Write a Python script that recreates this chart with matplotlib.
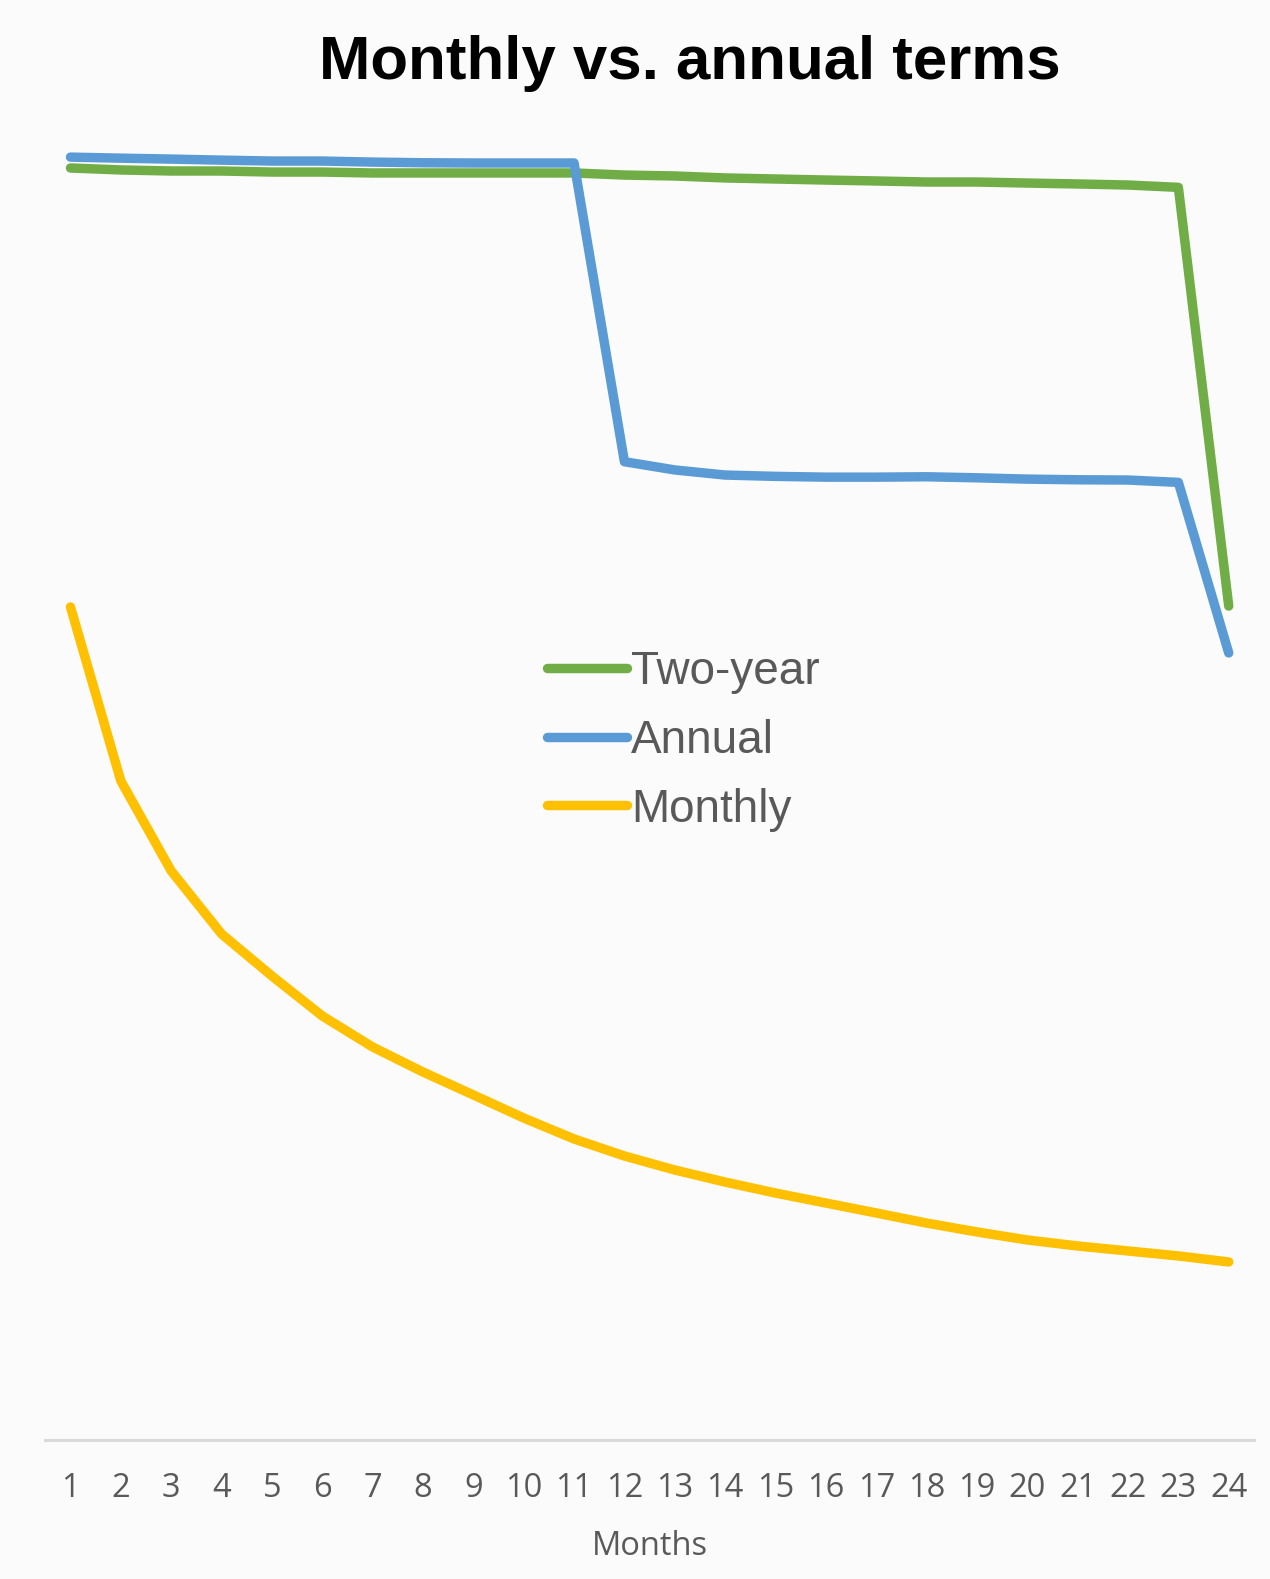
import matplotlib
matplotlib.use("Agg")
import matplotlib.pyplot as plt

# ---- data (relative index, no y scale shown in the original) ----
months = list(range(1, 25))
month_labels = [str(m) for m in months]

two_year = [97.10, 96.95, 96.87, 96.87, 96.79, 96.79, 96.72, 96.72, 96.72, 96.72,
            96.72, 96.56, 96.49, 96.34, 96.26, 96.18, 96.11, 96.03, 96.03, 95.95,
            95.88, 95.80, 95.62, 63.66]
annual = [97.93, 97.85, 97.78, 97.70, 97.63, 97.63, 97.55, 97.50, 97.48, 97.48,
          97.48, 74.68, 74.05, 73.66, 73.56, 73.50, 73.50, 73.53, 73.45, 73.35,
          73.30, 73.28, 73.10, 60.08]
monthly = [63.59, 50.31, 43.44, 38.63, 35.42, 32.37, 30.00, 28.09, 26.34, 24.58,
           22.98, 21.68, 20.61, 19.69, 18.85, 18.09, 17.33, 16.56, 15.88, 15.27,
           14.81, 14.43, 14.05, 13.59]

series_names = ["Two-year", "Annual", "Monthly"]
series_colors = ["#70ad47", "#5b9bd5", "#ffc000"]

title = "Monthly vs. annual terms"
x_title = "Months"

# ---- figure ----
W, H = 1270, 1579
fig = plt.figure(figsize=(W / 100, H / 100), dpi=100)
bg = "#fbfbfb"
fig.patch.set_facecolor(bg)

ax = fig.add_axes([45.3 / W, 1 - 1440 / H, 1208.6 / W, 1310 / H])
ax.set_facecolor(bg)

lw = 6.8
for vals, name, col in zip([two_year, annual, monthly], series_names, series_colors):
    ax.plot(months, vals, color=col, lw=lw, label=name,
            solid_capstyle="round", solid_joinstyle="round")

ax.set_xlim(0.5, 24.5)
ax.set_ylim(0, 100)
ax.set_yticks([])
for s in ["top", "right", "left"]:
    ax.spines[s].set_visible(False)
ax.spines["bottom"].set_color("#d9d9d9")
ax.spines["bottom"].set_linewidth(2.2)

ax.set_xticks(months)
ax.set_xticklabels(month_labels, fontfamily="Open Sans", fontsize=23.5, color="#595959")
ax.tick_params(axis="x", length=0, pad=23)
ax.set_xlabel(x_title, fontfamily="Open Sans", fontsize=23.5, color="#595959", labelpad=18)

fig.text(690 / W, 1 - 63 / H, title, ha="center", va="center",
         fontfamily="Liberation Sans", fontweight="bold", fontsize=44.5, color="black")

leg = ax.legend(loc="upper left", bbox_to_anchor=(547 / W, 1 - 650 / H),
                bbox_transform=fig.transFigure, frameon=False, borderpad=0,
                borderaxespad=0, handlelength=1.75, handletextpad=0.08,
                labelspacing=0.54,
                prop={"family": "Liberation Sans", "size": 33})
for t in leg.get_texts():
    t.set_color("#595959")
for h in leg.get_lines():
    h.set_linewidth(lw)
    h.set_solid_capstyle("round")

fig.savefig("out.png", dpi=100, facecolor=bg)
